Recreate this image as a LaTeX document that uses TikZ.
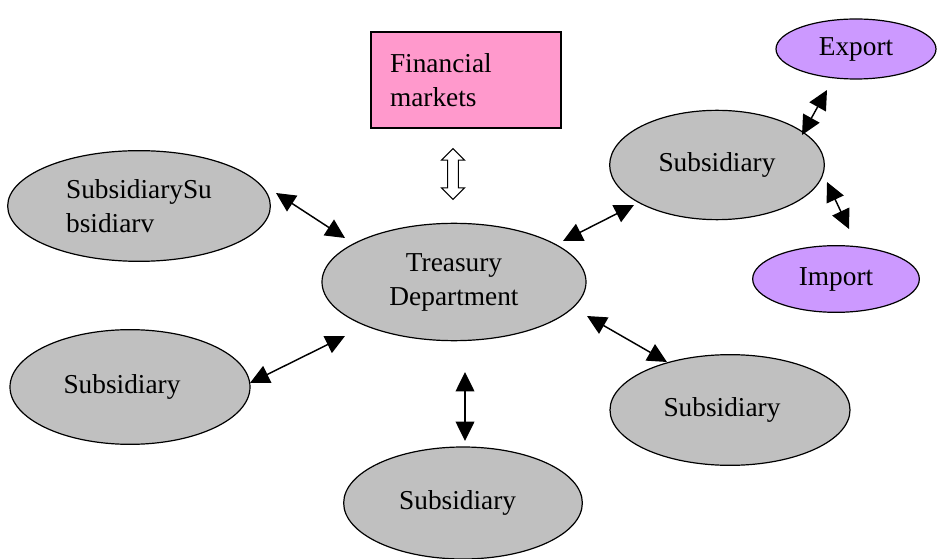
\documentclass[tikz,border=0pt]{standalone}
\usepackage{fontspec}
\setmainfont{Liberation Serif}
\usetikzlibrary{arrows.meta, shapes.geometric, shapes.arrows}
\definecolor{subGrey}{RGB}{192,192,192}
\definecolor{mktPink}{RGB}{255,153,204}
\definecolor{tradeLilac}{RGB}{204,153,255}

\begin{document}
\begin{tikzpicture}[
    x=0.75pt, y=-0.75pt,
    txt/.style={font=\fontsize{20.5}{25.5}\selectfont},
    oval/.style={draw, ellipse, line width=0.9pt, inner sep=0pt, minimum width=#1, txt, align=center},
    link/.style={line width=1.1pt, {Triangle[length=14.5pt,width=14pt]}-{Triangle[length=14.5pt,width=14pt]}}
  ]
    \useasboundingbox (0,0) rectangle (941,559);

    % centre and market
    \node[oval=198pt, minimum height=88pt, fill=subGrey] (treasury) at (454,282) {Treasury\\Department};
    \node[draw, line width=0.9pt, fill=mktPink, minimum width=142.5pt, minimum height=72pt,
          text width=114pt, align=left, inner xsep=14.25pt, txt] (markets) at (466,80) {Financial\\markets};
    \node[draw, line width=0.8pt, fill=white, double arrow, shape border rotate=90,
          minimum height=38pt, inner sep=3.6pt, double arrow head extend=4.6pt] (flow) at (453,174) {};

    % subsidiaries
    \node[oval=197pt, minimum height=83pt, fill=subGrey, align=left] (subTL) at (139,206) {SubsidiarySu\\bsidiarv};
    \node[oval=161pt, minimum height=82pt, fill=subGrey] (subTR) at (717,165) {Subsidiary};
    \node[oval=180pt, minimum height=86pt, fill=subGrey] (subBL) at (130,387) {\hspace*{-12pt}Subsidiary};
    \node[oval=180pt, minimum height=83pt, fill=subGrey] (subBR) at (730,410) {\hspace*{-12pt}Subsidiary};
    \node[oval=179pt, minimum height=84pt, fill=subGrey] (subB) at (463,503) {\hspace*{-8pt}Subsidiary};

    % trade
    \node[oval=120pt, minimum height=45pt, fill=tradeLilac] (export) at (856,49) {Export};
    \node[oval=125pt, minimum height=50pt, fill=tradeLilac] (import) at (836,279) {Import};

    % arrow ends
    \coordinate (tlA) at (276,193);  \coordinate (tlB) at (345,238);
    \coordinate (trA) at (563,241);  \coordinate (trB) at (634,205);
    \coordinate (exA) at (802,135);  \coordinate (exB) at (827,90);
    \coordinate (imA) at (827,182);  \coordinate (imB) at (849,229);
    \coordinate (blA) at (250,383);  \coordinate (blB) at (345,336);
    \coordinate (brA) at (587,316);  \coordinate (brB) at (667,362);
    \coordinate (bA)  at (465,372);  \coordinate (bB)  at (465,441);

    \draw[link] (tlA) -- (tlB);
    \draw[link] (trA) -- (trB);
    \draw[link] (exA) -- (exB);
    \draw[link] (imA) -- (imB);
    \draw[link] (blA) -- (blB);
    \draw[link] (brA) -- (brB);
    \draw[link] (bA) -- (bB);
  \end{tikzpicture}
\end{document}
